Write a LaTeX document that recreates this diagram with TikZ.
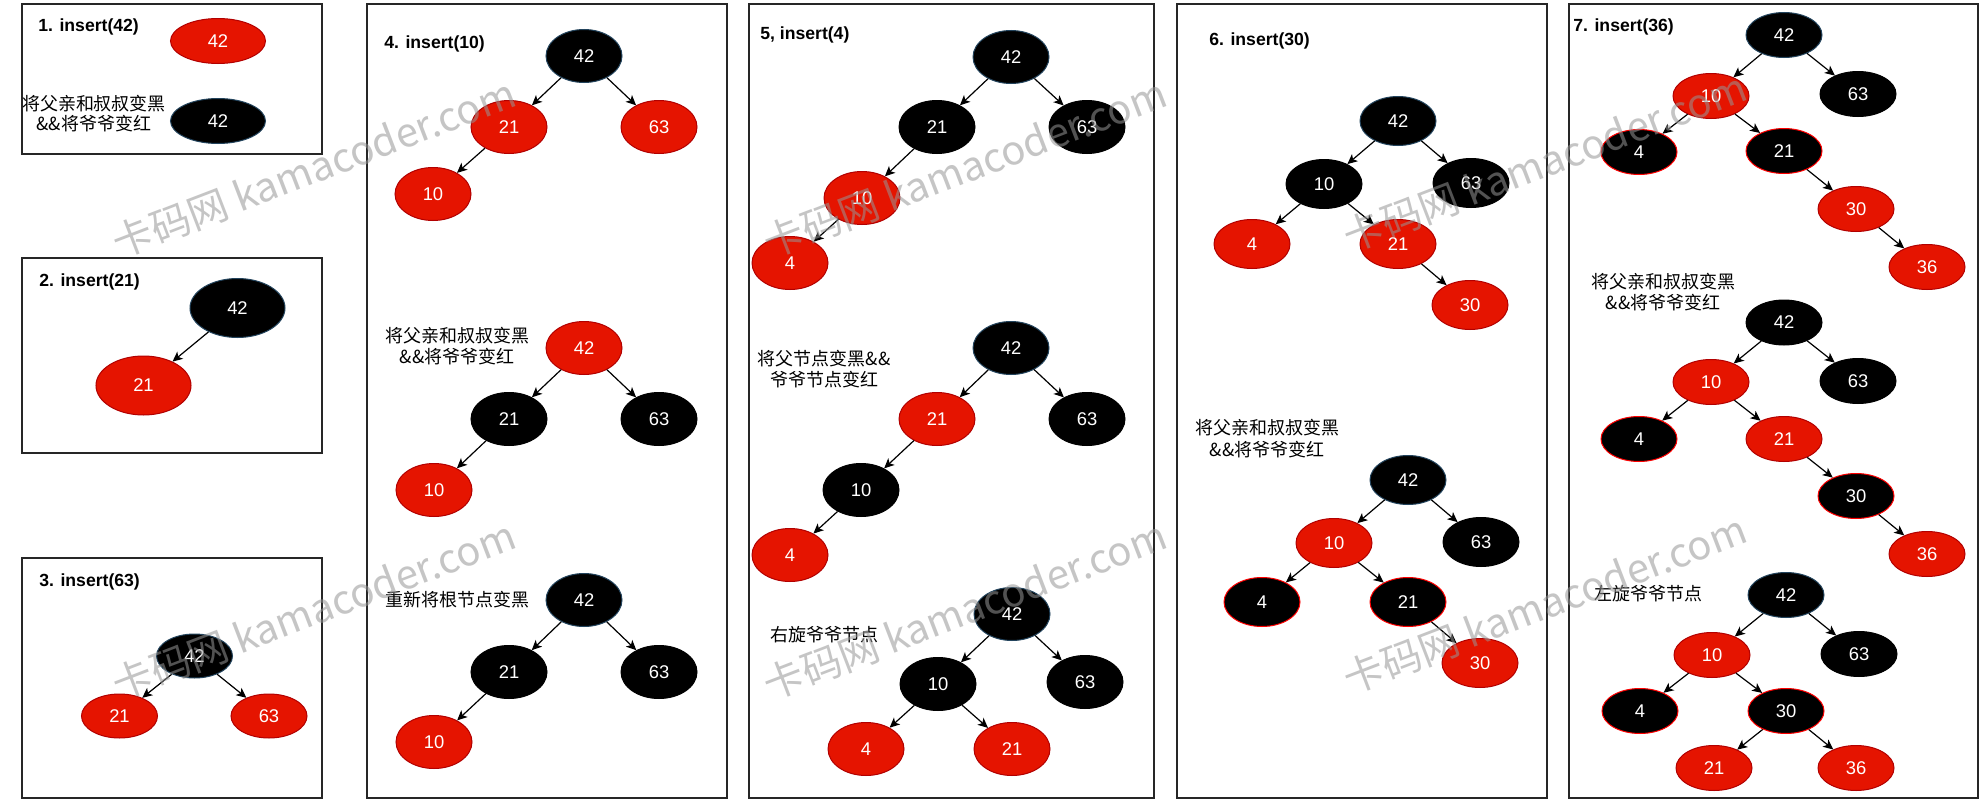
\documentclass[tikz,border=0pt]{standalone}
\usepackage{fontspec}
\setmainfont{Liberation Sans}
\newfontfamily\cjk{Noto Sans CJK SC}
\usetikzlibrary{shapes.geometric,arrows.meta}
\definecolor{rbfill}{RGB}{229,20,0}
\definecolor{rbdraw}{RGB}{178,0,0}
\definecolor{bkdraw}{RGB}{35,68,93}
\definecolor{wmcol}{RGB}{150,150,150}
\begin{document}
\begin{tikzpicture}[x=0.5pt,y=-0.5pt,
  nd/.style={ellipse, inner sep=0pt, line width=0.5pt, text=white, font=\fontsize{9.2pt}{10pt}\selectfont},
  rn/.style={nd, fill=rbfill, draw=rbdraw},
  bn/.style={nd, fill=black, draw=bkdraw},
  bnr/.style={nd, fill=black, draw=red},
  bnb/.style={nd, fill=black, draw=black},
  szA/.style={minimum width=47.5pt, minimum height=22.5pt},
  szB/.style={minimum width=47.5pt, minimum height=29.5pt},
  szC/.style={minimum width=38pt, minimum height=22pt},
  szD/.style={minimum width=38pt, minimum height=26.5pt},
  szE/.style={minimum width=38pt, minimum height=24.5pt},
  szF/.style={minimum width=38pt, minimum height=22.5pt},
  arr/.style={-{Stealth[length=5pt,width=4.6pt,inset=1.3pt]}, line width=0.6pt},
  panel/.style={draw=black!85, line width=0.6pt},
  ttl/.style={anchor=west, inner sep=0pt, font=\bfseries\fontsize{8.8pt}{10pt}\selectfont},
  lbl/.style={inner sep=0pt, align=center, font=\cjk\fontsize{9pt}{10.8pt}\selectfont},
  wmk/.style={text=wmcol, opacity=0.55, rotate=21, inner sep=0pt, font=\cjk\fontsize{20pt}{21pt}\selectfont}
]
\useasboundingbox (0,0) rectangle (1983,803);
\fill[white] (0,0) rectangle (1983,803);

% panels
\draw[panel] (22,4) rectangle (322,154);
\draw[panel] (22,258) rectangle (322,453);
\draw[panel] (22,558) rectangle (322,798);
\draw[panel] (367,4) rectangle (727,798);
\draw[panel] (749,4) rectangle (1154,798);
\draw[panel] (1177,4) rectangle (1547,798);
\draw[panel] (1569,4) rectangle (1978,798);

% titles
\node[ttl] (t1) at (38,27) {1. insert(42)};
\node[ttl] (t2) at (39,282) {2. insert(21)};
\node[ttl] (t3) at (39,582) {3. insert(63)};
\node[ttl] (t4) at (384,44) {4. insert(10)};
\node[ttl] (t5) at (760,35) {5, insert(4)};
\node[ttl] (t6) at (1209,41) {6. insert(30)};
\node[ttl] (t7) at (1573,27) {7. insert(36)};

% captions
\node[lbl, font=\cjk\fontsize{9pt}{9.6pt}\selectfont] (c1) at (94,113.5) {将父亲和叔叔变黑\\\&\&将爷爷变红};
\node[lbl] (c4a) at (457,346) {将父亲和叔叔变黑\\\&\&将爷爷变红};
\node[lbl] (c4b) at (457,600) {重新将根节点变黑};
\node[lbl] (c5a) at (824,369) {将父节点变黑\&\&\\爷爷节点变红};
\node[lbl] (c5b) at (824,635) {右旋爷爷节点};
\node[lbl] (c6a) at (1267,438.5) {将父亲和叔叔变黑\\\&\&将爷爷变红};
\node[lbl] (c7a) at (1663,292) {将父亲和叔叔变黑\\\&\&将爷爷变红};
\node[lbl] (c7b) at (1648,594) {左旋爷爷节点};

% box 1
\node[rn,szA] (p1r) at (218,41) {42};
\node[bn,szA] (p1b) at (218,121) {42};

% box 2
\node[bn,szB] (p2a) at (237.5,308) {42};
\node[rn,szB] (p2b) at (143.5,385.5) {21};
\draw[arr] (p2a) -- (p2b);

% box 3
\node[bn,szC] (p3a) at (194.5,656) {42};
\node[rn,szC] (p3b) at (119.5,716) {21};
\node[rn,szC] (p3c) at (269,716) {63};
\draw[arr] (p3a) -- (p3b);
\draw[arr] (p3a) -- (p3c);

% box 4 tree a
\node[bn,szD] (d1a) at (584,56) {42};
\node[rn,szD] (d1b) at (509,127) {21};
\node[rn,szD] (d1c) at (659,127) {63};
\node[rn,szD] (d1d) at (433,194) {10};
\draw[arr] (d1a) -- (d1b);
\draw[arr] (d1a) -- (d1c);
\draw[arr] (d1b) -- (d1d);
% box 4 tree b
\node[rn,szD] (d2a) at (584,348) {42};
\node[bnb,szD] (d2b) at (509,419) {21};
\node[bnb,szD] (d2c) at (659,419) {63};
\node[rn,szD] (d2d) at (434,490) {10};
\draw[arr] (d2a) -- (d2b);
\draw[arr] (d2a) -- (d2c);
\draw[arr] (d2b) -- (d2d);
% box 4 tree c
\node[bn,szD] (d3a) at (584,600) {42};
\node[bnb,szD] (d3b) at (509,672) {21};
\node[bnb,szD] (d3c) at (659,672) {63};
\node[rn,szD] (d3d) at (434,742) {10};
\draw[arr] (d3a) -- (d3b);
\draw[arr] (d3a) -- (d3c);
\draw[arr] (d3b) -- (d3d);

% box 5 tree a
\node[bn,szD] (e1a) at (1011,57) {42};
\node[bnb,szD] (e1b) at (937,127) {21};
\node[bnb,szD] (e1c) at (1087,127) {63};
\node[rn,szD] (e1d) at (862,198) {10};
\node[rn,szD] (e1e) at (790,263) {4};
\draw[arr] (e1a) -- (e1b);
\draw[arr] (e1a) -- (e1c);
\draw[arr] (e1b) -- (e1d);
\draw[arr] (e1d) -- (e1e);
% box 5 tree b
\node[bn,szD] (e2a) at (1011,348) {42};
\node[rn,szD] (e2b) at (937,419) {21};
\node[bnb,szD] (e2c) at (1087,419) {63};
\node[bnb,szD] (e2d) at (861,490) {10};
\node[rn,szD] (e2e) at (790,555) {4};
\draw[arr] (e2a) -- (e2b);
\draw[arr] (e2a) -- (e2c);
\draw[arr] (e2b) -- (e2d);
\draw[arr] (e2d) -- (e2e);
% box 5 tree c
\node[bn,szD] (e3a) at (1012,614) {42};
\node[bnb,szD] (e3b) at (938,684) {10};
\node[bnb,szD] (e3c) at (1085,682) {63};
\node[rn,szD] (e3d) at (866,749) {4};
\node[rn,szD] (e3e) at (1012,749) {21};
\draw[arr] (e3a) -- (e3b);
\draw[arr] (e3a) -- (e3c);
\draw[arr] (e3b) -- (e3d);
\draw[arr] (e3b) -- (e3e);

% box 6 tree a
\node[bn,szE] (f1a) at (1398,121) {42};
\node[bnb,szE] (f1b) at (1324,184) {10};
\node[bnb,szE] (f1c) at (1471,183) {63};
\node[rn,szE] (f1d) at (1252,244) {4};
\node[rn,szE] (f1e) at (1398,244) {21};
\node[rn,szE] (f1f) at (1470,305) {30};
\draw[arr] (f1a) -- (f1b);
\draw[arr] (f1a) -- (f1c);
\draw[arr] (f1b) -- (f1d);
\draw[arr] (f1b) -- (f1e);
\draw[arr] (f1e) -- (f1f);
% box 6 tree b
\node[bn,szE] (f2a) at (1408,480) {42};
\node[rn,szE] (f2b) at (1334,543) {10};
\node[bnb,szE] (f2c) at (1481,542) {63};
\node[bnr,szE] (f2d) at (1262,602) {4};
\node[bnr,szE] (f2e) at (1408,602) {21};
\node[rn,szE] (f2f) at (1480,663) {30};
\draw[arr] (f2a) -- (f2b);
\draw[arr] (f2a) -- (f2c);
\draw[arr] (f2b) -- (f2d);
\draw[arr] (f2b) -- (f2e);
\draw[arr] (f2e) -- (f2f);

% box 7 tree a
\node[bn,szF] (g1a) at (1784,35) {42};
\node[rn,szF] (g1b) at (1711,96) {10};
\node[bnb,szF] (g1c) at (1858,94) {63};
\node[bnr,szF] (g1d) at (1639,152) {4};
\node[bnr,szF] (g1e) at (1784,151) {21};
\node[rn,szF] (g1f) at (1856,209) {30};
\node[rn,szF] (g1g) at (1927,267) {36};
\draw[arr] (g1a) -- (g1b);
\draw[arr] (g1a) -- (g1c);
\draw[arr] (g1b) -- (g1d);
\draw[arr] (g1b) -- (g1e);
\draw[arr] (g1e) -- (g1f);
\draw[arr] (g1f) -- (g1g);
% box 7 tree b
\node[bnb,szF] (g2a) at (1784,322.5) {42};
\node[rn,szF] (g2b) at (1711,382) {10};
\node[bnb,szF] (g2c) at (1858,381) {63};
\node[bnr,szF] (g2d) at (1639,439) {4};
\node[rn,szF] (g2e) at (1784,439) {21};
\node[bnr,szF] (g2f) at (1856,496) {30};
\node[rn,szF] (g2g) at (1927,554) {36};
\draw[arr] (g2a) -- (g2b);
\draw[arr] (g2a) -- (g2c);
\draw[arr] (g2b) -- (g2d);
\draw[arr] (g2b) -- (g2e);
\draw[arr] (g2e) -- (g2f);
\draw[arr] (g2f) -- (g2g);
% box 7 tree c
\node[bn,szF] (g3a) at (1786,595) {42};
\node[rn,szF] (g3b) at (1712,655) {10};
\node[bnb,szF] (g3c) at (1859,654) {63};
\node[bnr,szF] (g3d) at (1640,711) {4};
\node[bnr,szF] (g3e) at (1786,711) {30};
\node[rn,szF] (g3f) at (1714,768) {21};
\node[rn,szF] (g3g) at (1856,768) {36};
\draw[arr] (g3a) -- (g3b);
\draw[arr] (g3a) -- (g3c);
\draw[arr] (g3b) -- (g3d);
\draw[arr] (g3b) -- (g3e);
\draw[arr] (g3e) -- (g3f);
\draw[arr] (g3e) -- (g3g);

% watermarks
\node[wmk] (w1) at (314,168) {卡码网 kamacoder.com};
\node[wmk] (w2) at (965,168) {卡码网 kamacoder.com};
\node[wmk] (w3) at (1545,162) {卡码网 kamacoder.com};
\node[wmk] (w4) at (314,610) {卡码网 kamacoder.com};
\node[wmk] (w5) at (965,610) {卡码网 kamacoder.com};
\node[wmk] (w6) at (1545,604) {卡码网 kamacoder.com};
\end{tikzpicture}
\end{document}
